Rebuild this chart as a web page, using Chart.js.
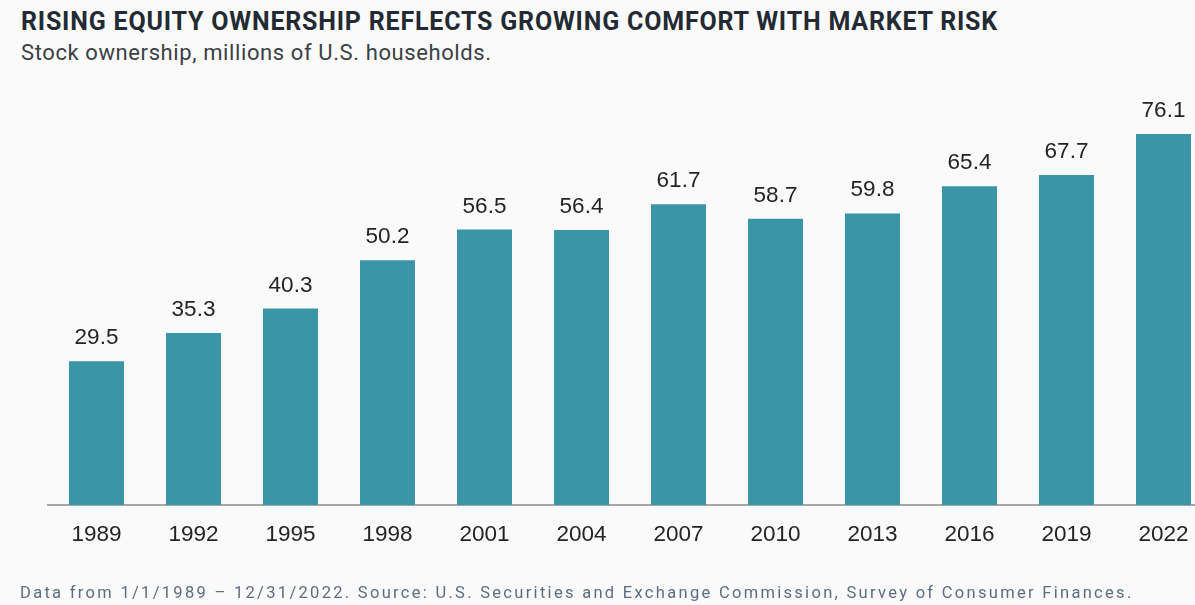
<!DOCTYPE html>
<html>
<head>
<meta charset="utf-8">
<script src="https://cdn.jsdelivr.net/npm/chart.js@4/dist/chart.umd.min.js"></script>
<style>
  html, body { margin: 0; padding: 0; width: 1195px; height: 605px; overflow: hidden; background: #fafafa; }
  #title { position: absolute; left: 21px; top: 7px; font: bold 25px Roboto, sans-serif; letter-spacing: 0.8px; color: #232a33; white-space: nowrap; }
  #subtitle { position: absolute; left: 21px; top: 40px; font: 22px Roboto, sans-serif; letter-spacing: 0.6px; color: #3a3f45; white-space: nowrap; }
  #wrap { position: absolute; left: 0; top: 0; width: 1212px; height: 605px; }
  #footer { position: absolute; left: 20px; top: 583px; font: 16.5px Roboto, sans-serif; color: #5b6d80; white-space: nowrap; letter-spacing: 2.3px; }
</style>
</head>
<body>
<div id="title">RISING EQUITY OWNERSHIP REFLECTS GROWING COMFORT WITH MARKET RISK</div>
<div id="subtitle">Stock ownership, millions of U.S. households.</div>
<div id="wrap"><canvas id="chart" width="1212" height="605"></canvas></div>
<div id="footer">Data from 1/1/1989 – 12/31/2022. Source: U.S. Securities and Exchange Commission, Survey of Consumer Finances.</div>
<script>
// Survey years and households owning stock (millions)
const years = ['1989', '1992', '1995', '1998', '2001', '2004', '2007', '2010', '2013', '2016', '2019', '2022'];
const households = [29.5, 35.3, 40.3, 50.2, 56.5, 56.4, 61.7, 58.7, 59.8, 65.4, 67.7, 76.1];

// Value written above each bar
const barValueLabels = {
  id: 'barValueLabels',
  afterDatasetsDraw(chart) {
    const ctx = chart.ctx;
    const meta = chart.getDatasetMeta(0);
    ctx.save();
    ctx.font = '22.5px "Liberation Sans", Arial, sans-serif';
    ctx.fillStyle = '#222428';
    ctx.textAlign = 'center';
    ctx.textBaseline = 'alphabetic';
    meta.data.forEach((bar, i) => {
      ctx.fillText(households[i].toFixed(1), bar.x, bar.y - 17);
    });
    ctx.restore();
  }
};

new Chart(document.getElementById('chart'), {
  type: 'bar',
  data: {
    labels: years,
    datasets: [{
      data: households,
      backgroundColor: '#3a95a6',
      borderWidth: 0,
      barPercentage: 0.567,
      categoryPercentage: 1.0
    }]
  },
  options: {
    responsive: false,
    animation: false,
    devicePixelRatio: 1,
    layout: { padding: { left: 48, right: 0, top: 115, bottom: 0 } },
    plugins: { legend: { display: false }, tooltip: { enabled: false }, title: { display: false } },
    scales: {
      x: {
        grid: { display: false, drawTicks: false },
        border: { display: true, color: '#a6a6a6', width: 2 },
        ticks: { color: '#222428', font: { family: '"Liberation Sans", Arial, sans-serif', size: 22.5 }, padding: 16, maxRotation: 0 },
        afterFit(scale) { scale.height = 100; }
      },
      y: {
        display: false,
        min: 0,
        max: 80
      }
    }
  },
  plugins: [barValueLabels]
});
</script>
</body>
</html>
